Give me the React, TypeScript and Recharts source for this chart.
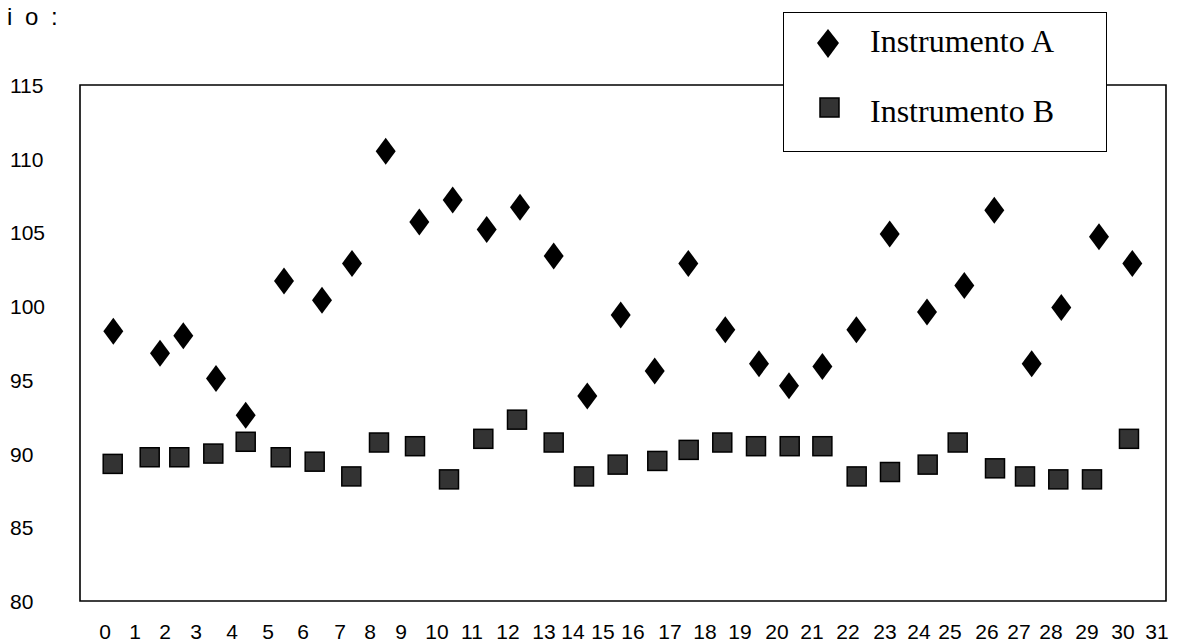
import { ScatterChart, Scatter, XAxis, YAxis, ReferenceArea, Legend } from 'recharts'

// sample positions on the horizontal scale, one per reading
const A_X = [0.245, 1.621, 2.307, 3.271, 4.146, 5.275, 6.394, 7.279, 8.272, 9.262, 10.246, 11.248, 12.229, 13.222, 14.212, 15.197, 16.199, 17.189, 18.279, 19.272, 20.156, 21.14, 22.142, 23.124, 24.223, 25.322, 26.206, 27.308, 28.18, 29.291, 30.273]
const A_VALUES = [98.3, 96.8, 98.0, 95.1, 92.6, 101.7, 100.4, 102.9, 110.5, 105.7, 107.2, 105.2, 106.7, 103.4, 93.9, 99.4, 95.6, 102.9, 98.4, 96.1, 94.6, 95.9, 98.4, 104.9, 99.6, 101.4, 106.5, 96.1, 99.9, 104.7, 102.9]

const B_X = [0.227, 1.317, 2.189, 3.191, 4.146, 5.178, 6.179, 7.258, 8.074, 9.135, 10.137, 11.148, 12.141, 13.222, 14.115, 15.108, 16.275, 17.2, 18.19, 19.184, 20.177, 21.14, 22.151, 23.132, 24.243, 25.128, 26.227, 27.111, 28.092, 29.085, 30.175]
const B_VALUES = [89.3, 89.75, 89.75, 90.0, 90.8, 89.75, 89.45, 88.45, 90.75, 90.5, 88.25, 91.0, 92.3, 90.75, 88.45, 89.25, 89.5, 90.25, 90.75, 90.5, 90.5, 90.5, 88.45, 88.75, 89.25, 90.75, 89.0, 88.45, 88.25, 88.25, 91.0]

// where each hand-placed axis number sits on the scale
const TICK_POS = [0, 0.884, 1.768, 2.682, 3.743, 4.804, 5.835, 6.925, 7.809, 8.722, 9.784, 10.815, 11.876, 12.937, 13.791, 14.675, 15.559, 16.649, 17.681, 18.712, 19.802, 20.834, 21.895, 22.985, 23.987, 24.9, 25.991, 26.934, 27.877, 28.938, 29.999, 31]
const TICK_LABELS = ['0', '1', '2', '3', '4', '5', '6', '7', '8', '9', '10', '11', '12', '13', '14', '15', '16', '17', '18', '19', '20', '21', '22', '23', '24', '25', '26', '27', '28', '29', '30', '31']
const Y_TICKS = [80, 85, 90, 95, 100, 105, 110, 115]

const X_MIN = -0.737
const X_MAX = 31.266

const dataA = A_X.map((x, i) => ({ x, y: A_VALUES[i] }))
const dataB = B_X.map((x, i) => ({ x, y: B_VALUES[i] }))

const SANS = '"Liberation Sans", Arial, sans-serif'
const SERIF = '"Liberation Serif", "Times New Roman", serif'

const Diamond = ({ cx, cy }: any) => (
  <path d={`M${cx},${cy - 13.5} L${cx + 10},${cy} L${cx},${cy + 13.5} L${cx - 10},${cy} Z`} fill="#000" />
)

const Square = ({ cx, cy }: any) => (
  <rect x={cx - 9.5} y={cy - 9.5} width={19} height={19} fill="#333" stroke="#000" strokeWidth={1.5} />
)

const YTick = ({ y, payload }: any) => (
  <text x={10} y={y} dy={8} textAnchor="start" fontSize={21} fontFamily={SANS} fill="#000">
    {payload.value}
  </text>
)

const XTick = ({ x, payload }: any) => (
  <text x={x} y={639} textAnchor="middle" fontSize={21} fontFamily={SANS} fill="#000">
    {TICK_LABELS[TICK_POS.indexOf(payload.value)]}
  </text>
)

const LegendBox = () => (
  <div style={{ width: 322, height: 138, border: '1.5px solid #000', background: '#fff', fontFamily: SERIF, fontSize: 32, color: '#000', position: 'relative' }}>
    <svg width={60} height={140} style={{ position: 'absolute', left: 0, top: 0 }}>
      <path d="M44,16 L55,30 L44,45 L33,30 Z" fill="#000" />
      <rect x={36} y={85} width={19} height={19} fill="#333" stroke="#000" strokeWidth={1.5} />
    </svg>
    <div style={{ position: 'absolute', left: 86, top: 10, lineHeight: '36px' }}>Instrumento A</div>
    <div style={{ position: 'absolute', left: 86, top: 80, lineHeight: '36px' }}>Instrumento B</div>
  </div>
)

export default function App() {
  return (
    <div style={{ position: 'absolute', left: 0, top: 0, width: 1178, height: 642, background: '#fff' }}>
      <div style={{ position: 'absolute', left: 7, top: 3, fontFamily: SANS, fontSize: 24, letterSpacing: 3, color: '#000' }}>
        i o :
      </div>
      <ScatterChart width={1178} height={642} margin={{ top: 85, right: 12, bottom: 0, left: 0 }}>
        <XAxis
          type="number"
          dataKey="x"
          domain={[X_MIN, X_MAX]}
          ticks={TICK_POS}
          interval={0}
          tick={<XTick />}
          tickLine={false}
          axisLine={false}
          height={41}
          allowDataOverflow
        />
        <YAxis
          type="number"
          dataKey="y"
          domain={[80, 115]}
          ticks={Y_TICKS}
          interval={0}
          tick={<YTick />}
          tickLine={false}
          axisLine={false}
          width={80}
          allowDataOverflow
        />
        <ReferenceArea x1={X_MIN} x2={X_MAX} y1={80} y2={115} fill="none" stroke="#000" strokeWidth={1.6} />
        <Scatter name="Instrumento A" data={dataA} shape={<Diamond />} isAnimationActive={false} />
        <Scatter name="Instrumento B" data={dataB} shape={<Square />} isAnimationActive={false} />
        <Legend
          layout="vertical"
          align="center"
          verticalAlign="middle"
          content={<LegendBox />}
          wrapperStyle={{ left: 783, top: 12, width: 325, height: 141 }}
        />
      </ScatterChart>
    </div>
  )
}
